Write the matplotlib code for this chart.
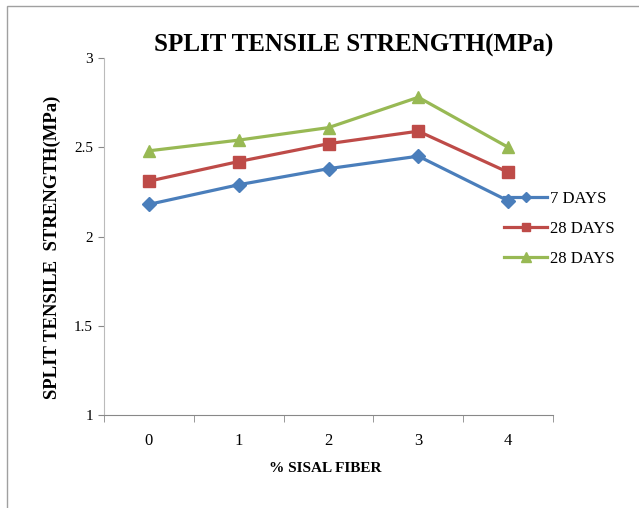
import matplotlib.pyplot as plt
from matplotlib.patches import Rectangle

fiber = [0, 1, 2, 3, 4]
days7 = [2.18, 2.29, 2.38, 2.45, 2.20]
days28 = [2.31, 2.42, 2.52, 2.59, 2.36]
days28b = [2.48, 2.54, 2.61, 2.78, 2.50]
labels = ["7 DAYS", "28 DAYS", "28 DAYS"]

plt.rcParams['font.family'] = ['Liberation Serif', 'DejaVu Serif']

fig = plt.figure(figsize=(6.39, 5.08), dpi=100)
fig.patches.append(Rectangle((7 / 639, -0.1), 1.2, 1 - 6 / 508 + 0.1,
                             transform=fig.transFigure, fill=False,
                             edgecolor='#a0a0a0', linewidth=1))
ax = fig.add_axes([104 / 639, 1 - 415 / 508, 449 / 639, 357 / 508])

ax.plot(fiber, days7, color='#4a7ebb', marker='D', markersize=7, linewidth=2.3, label=labels[0])
ax.plot(fiber, days28, color='#be4b48', marker='s', markersize=8, linewidth=2.3, label=labels[1])
ax.plot(fiber, days28b, color='#98b954', marker='^', markersize=9, linewidth=2.3, label=labels[2])

ax.set_xlim(-0.5, 4.5)
ax.set_ylim(1, 3)
ax.set_yticks([1, 1.5, 2, 2.5, 3])
ax.set_yticklabels(['1', '1.5', '2', '2.5', '3'])
ax.set_xticks(fiber)
ax.set_xticks([-0.5, 0.5, 1.5, 2.5, 3.5, 4.5], minor=True)
ax.tick_params(axis='x', which='major', length=0, pad=13, labelsize=12)
ax.tick_params(axis='x', which='minor', length=5, color='#888888', direction='out')
ax.tick_params(axis='y', length=4, color='#888888', labelsize=11, pad=4)

for s in ['top', 'right']:
    ax.spines[s].set_visible(False)
ax.spines['left'].set_color('#bbbbbb')
ax.spines['bottom'].set_color('#888888')

fig.text(354 / 639, 1 - 45 / 508, "SPLIT TENSILE STRENGTH(MPa)", ha='center', va='center',
         fontsize=18, fontweight='bold')
fig.text(52 / 639, 1 - 247 / 508, "SPLIT TENSILE  STRENGTH(MPa)", ha='center', va='center',
         rotation=90, fontsize=13.5, fontweight='bold')
fig.text(325 / 639, 1 - 468 / 508, "% SISAL FIBER", ha='center', va='center',
         fontsize=11, fontweight='bold')

ax.legend(loc='center left', bbox_to_anchor=(504 / 639, 1 - 229 / 508),
          bbox_transform=fig.transFigure, frameon=False, fontsize=12,
          handlelength=2.6, handletextpad=0.15, labelspacing=0.85, borderpad=0,
          borderaxespad=0, markerscale=0.8)

fig.savefig('out.png', dpi=100)
